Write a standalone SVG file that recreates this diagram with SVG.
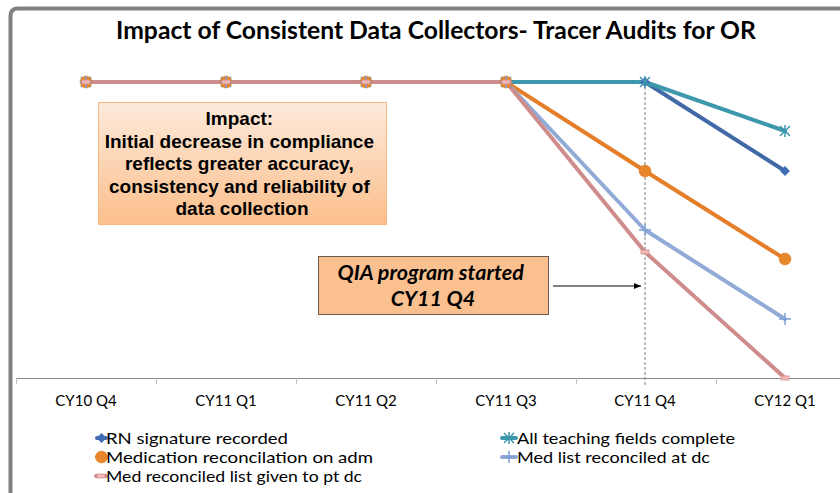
<svg xmlns="http://www.w3.org/2000/svg" width="840" height="493" viewBox="0 0 840 493">
<defs>
<style>
.cal{font-family:Lato,"Open Sans","Liberation Sans",sans-serif;fill:#000}
.title{font-size:24.7px;font-weight:bold}
.cat{font-size:15px}
.leg{font-size:15.8px}
.imp{font-family:"Liberation Sans",Arial,sans-serif;font-weight:bold;font-size:19px;fill:#000}
.qia{font-size:21.5px;font-weight:bold;font-style:italic}
.s{fill:none;stroke-width:4;stroke-linejoin:round;stroke-linecap:round}
.rn{stroke:#4169A8}
.tf{stroke:#3D98AE}
.md{stroke:#E57E29}
.ml{stroke:#91ABD6}
.pd{stroke:#CF8C8C}
</style>
<linearGradient id="impg" x1="0" y1="0" x2="0" y2="1">
<stop offset="0" stop-color="#FDEADB"/>
<stop offset="1" stop-color="#FBBF8C"/>
</linearGradient>
<marker id="arr" markerWidth="8" markerHeight="8" refX="7" refY="4" orient="auto" markerUnits="userSpaceOnUse">
<path d="M0,1 L7,4 L0,7 z" fill="#000"/>
</marker>
<g id="mRN"><path d="M0,-5 L5,0 L0,5 L-5,0 z" fill="#3F6DB3"/></g>
<g id="mTF"><path d="M-5,-5 L5,5 M-5,5 L5,-5 M0,-6 V6" stroke="#3D98AE" stroke-width="1.5" fill="none"/></g>
<g id="mMD"><circle r="6" fill="#E8862C" stroke="#D97920" stroke-width="0.5"/></g>
<g id="mML"><path d="M-6,0 H6 M0,-6 V6" stroke="#7E9ED3" stroke-width="1.5" fill="none"/></g>
<g id="mPD"><rect x="-4" y="-2" width="8" height="4" fill="#F2B8B8" stroke="#D49090" stroke-width="0.8"/></g>
</defs>
<rect width="840" height="493" fill="#fff"/>
<path d="M10.5,493 V16 Q10.5,8.5 18,8.5 H840" fill="none" stroke="#808080" stroke-width="4"/>
<text class="cal title" x="436" y="39" text-anchor="middle">Impact of Consistent Data Collectors- Tracer Audits for OR</text>

<g id="axis">
<line x1="16" y1="378.5" x2="840" y2="378.5" stroke="#8C8C8C" stroke-width="1"/>
<path d="M16.5,378 V384 M156.5,378 V384 M296.5,378 V384 M436.5,378 V384 M576.5,378 V384 M716.5,378 V384" stroke="#BFBFBF" stroke-width="1"/>
<line x1="645" y1="82" x2="645" y2="386" stroke="#7F7F7F" stroke-width="1" stroke-dasharray="3,2"/>
<text class="cal cat" x="86" y="406" text-anchor="middle">CY10 Q4</text>
<text class="cal cat" x="226" y="406" text-anchor="middle">CY11 Q1</text>
<text class="cal cat" x="366" y="406" text-anchor="middle">CY11 Q2</text>
<text class="cal cat" x="506" y="406" text-anchor="middle">CY11 Q3</text>
<text class="cal cat" x="645" y="406" text-anchor="middle">CY11 Q4</text>
<text class="cal cat" x="785" y="406" text-anchor="middle">CY12 Q1</text>
</g>

<g id="series">
<polyline class="s rn" points="86,82 226,82 366,82 506,82 645,82 785,171"/>
<polyline class="s tf" points="86,82 226,82 366,82 506,82 645,82 785,131"/>
<polyline class="s md" points="86,82 226,82 366,82 506,82 645,171 785,259"/>
<polyline class="s ml" points="86,82 226,82 366,82 506,82 645,230 785,319"/>
<polyline class="s pd" points="86,82 226,82 366,82 506,82 645,252 785,378"/>
<g id="markers">
<use href="#mRN" x="86" y="82"/><use href="#mRN" x="226" y="82"/><use href="#mRN" x="366" y="82"/><use href="#mRN" x="506" y="82"/><use href="#mRN" x="645" y="82"/><use href="#mRN" x="785" y="171"/>
<use href="#mTF" x="86" y="82"/><use href="#mTF" x="226" y="82"/><use href="#mTF" x="366" y="82"/><use href="#mTF" x="506" y="82"/><use href="#mTF" x="645" y="82"/><use href="#mTF" x="785" y="131"/>
<use href="#mMD" x="86" y="82"/><use href="#mMD" x="226" y="82"/><use href="#mMD" x="366" y="82"/><use href="#mMD" x="506" y="82"/><use href="#mMD" x="645" y="171"/><use href="#mMD" x="785" y="259"/>
<use href="#mML" x="86" y="82"/><use href="#mML" x="226" y="82"/><use href="#mML" x="366" y="82"/><use href="#mML" x="506" y="82"/><use href="#mML" x="645" y="230"/><use href="#mML" x="785" y="319"/>
<use href="#mPD" x="86" y="82"/><use href="#mPD" x="226" y="82"/><use href="#mPD" x="366" y="82"/><use href="#mPD" x="506" y="82"/><use href="#mPD" x="645" y="252"/><use href="#mPD" x="785" y="378"/>
</g>
</g>

<g id="impact">
<rect x="98.5" y="102.5" width="288" height="122" fill="url(#impg)" stroke="#F9B985" stroke-width="1"/>
<text class="imp" text-anchor="middle">
<tspan x="242" y="125">Impact:</tspan>
<tspan x="242" y="148">Initial decrease in compliance</tspan>
<tspan x="242" y="170">reflects greater accuracy,</tspan>
<tspan x="242" y="193">consistency and reliability of</tspan>
<tspan x="242" y="215">data collection</tspan>
</text>
</g>

<g id="qia">
<rect x="318.5" y="256.5" width="230" height="58" fill="#FAC090" stroke="#6E5A4E" stroke-width="1"/>
<text class="cal qia" text-anchor="middle">
<tspan x="433" y="280">QIA program started</tspan>
<tspan x="433" y="306">CY11 Q4</tspan>
</text>
</g>

<g id="connectors">
<line x1="553" y1="286" x2="641" y2="286" stroke="#000" stroke-width="1" marker-end="url(#arr)"/>
</g>

<g id="legend">
<line x1="97" y1="438" x2="106" y2="438" class="s rn" stroke-width="3"/><use href="#mRN" x="101.5" y="438"/>
<text class="cal leg" x="106" y="444" textLength="182" lengthAdjust="spacingAndGlyphs">RN signature recorded</text>
<line x1="97" y1="457" x2="106" y2="457" class="s md" stroke-width="3"/><use href="#mMD" x="101.5" y="457"/>
<text class="cal leg" x="106" y="463" textLength="267" lengthAdjust="spacingAndGlyphs">Medication reconcilation on adm</text>
<line x1="96" y1="476" x2="106" y2="476" class="s pd" stroke-width="3"/><use href="#mPD" x="101" y="476"/>
<text class="cal leg" x="106" y="482" textLength="256" lengthAdjust="spacingAndGlyphs">Med reconciled list given to pt dc</text>
<line x1="502" y1="438" x2="516" y2="438" class="s tf" stroke-width="3"/><use href="#mTF" x="509" y="438"/>
<text class="cal leg" x="517" y="444" textLength="218" lengthAdjust="spacingAndGlyphs">All teaching fields complete</text>
<line x1="502" y1="457" x2="516" y2="457" class="s ml" stroke-width="3"/><use href="#mML" x="509" y="457"/>
<text class="cal leg" x="517" y="463" textLength="193" lengthAdjust="spacingAndGlyphs">Med list reconciled at dc</text>
</g>
</svg>
